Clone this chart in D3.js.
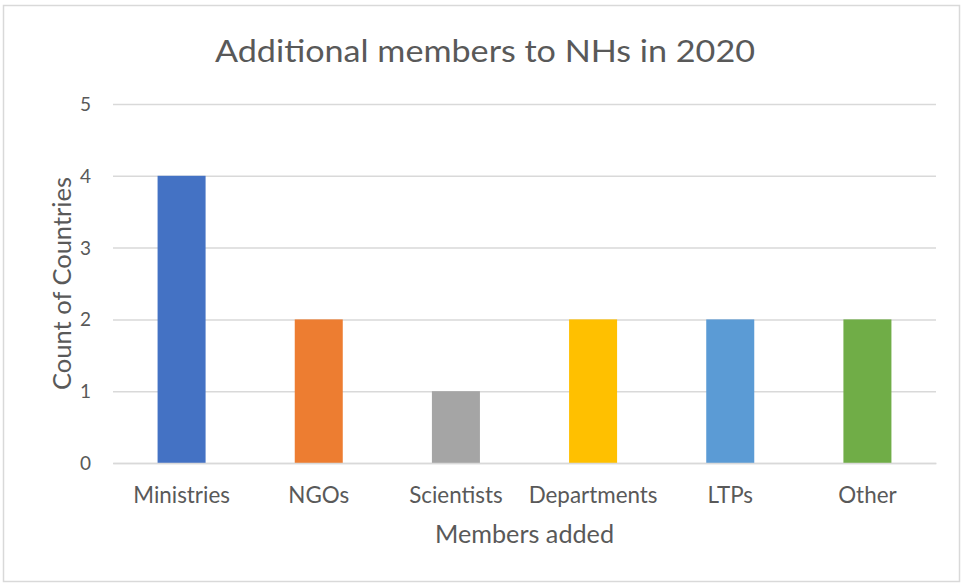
<!DOCTYPE html>
<html>
<head>
<meta charset="utf-8">
<script src="https://cdn.jsdelivr.net/npm/d3@7"></script>
<style>
  html, body { margin: 0; padding: 0; background: #fff; }
  svg text { font-family: Lato, "Open Sans", sans-serif; fill: #595959; }
</style>
</head>
<body>
<svg id="chart" width="964" height="583"></svg>
<script>
const categories = ["Ministries", "NGOs", "Scientists", "Departments", "LTPs", "Other"];
const values = [4, 2, 1, 2, 2, 2];
const colors = ["#4472C4", "#ED7D31", "#A5A5A5", "#FFC000", "#5B9BD5", "#70AD47"];
const yTicks = [0, 1, 2, 3, 4, 5];
const titleText = "Additional members to NHs in 2020";
const xTitle = "Members added";
const yTitle = "Count of Countries";

const svg = d3.select("#chart");
const plot = { left: 113, right: 936, top: 104, bottom: 463 };

// chart border
svg.append("rect")
  .attr("x", 3.5).attr("y", 5.5)
  .attr("width", 956).attr("height", 576)
  .attr("fill", "#fff").attr("stroke", "#D9D9D9").attr("stroke-width", 1.5);

const x = d3.scaleBand().domain(categories).range([plot.left, plot.right]).padding(0);
const y = d3.scaleLinear().domain([0, 5]).range([plot.bottom, plot.top]);

// gridlines + y tick labels
const yAxis = d3.axisLeft(y).tickValues(yTicks).tickSize(-(plot.right - plot.left)).tickPadding(22).tickFormat(d3.format("d"));
const gy = svg.append("g").attr("transform", `translate(${plot.left},0)`).call(yAxis);
gy.select(".domain").remove();
gy.selectAll(".tick line").attr("stroke", "#D9D9D9").attr("stroke-width", 1.5);
gy.selectAll(".tick text").attr("font-size", 19).attr("fill", "#595959").attr("dy", "0.34em");

// bars
const barW = x.bandwidth() * 0.35;
svg.append("g").selectAll("rect")
  .data(categories)
  .join("rect")
  .attr("x", (d) => x(d) + (x.bandwidth() - barW) / 2)
  .attr("y", (d, i) => y(values[i]))
  .attr("width", barW)
  .attr("height", (d, i) => y(0) - y(values[i]))
  .attr("fill", (d, i) => colors[i]);

// x axis
const xAxis = d3.axisBottom(x).tickSize(0).tickPadding(24);
const gx = svg.append("g").attr("transform", `translate(0,${plot.bottom})`).call(xAxis);
gx.select(".domain").attr("stroke", "#D9D9D9").attr("stroke-width", 1.5);
gx.selectAll(".tick text").attr("font-size", 22.4).attr("fill", "#595959");

// title
svg.append("text")
  .attr("x", 485).attr("y", 62)
  .attr("text-anchor", "middle")
  .attr("font-size", 31.5)
  .attr("textLength", 540).attr("lengthAdjust", "spacingAndGlyphs")
  .text(titleText);

// x axis title
svg.append("text")
  .attr("x", (plot.left + plot.right) / 2).attr("y", 543)
  .attr("text-anchor", "middle")
  .attr("font-size", 25.2)
  .text(xTitle);

// y axis title
svg.append("text")
  .attr("transform", `translate(71,${(plot.top + plot.bottom) / 2}) rotate(-90)`)
  .attr("text-anchor", "middle")
  .attr("font-size", 25.5)
  .text(yTitle);
</script>
</body>
</html>
